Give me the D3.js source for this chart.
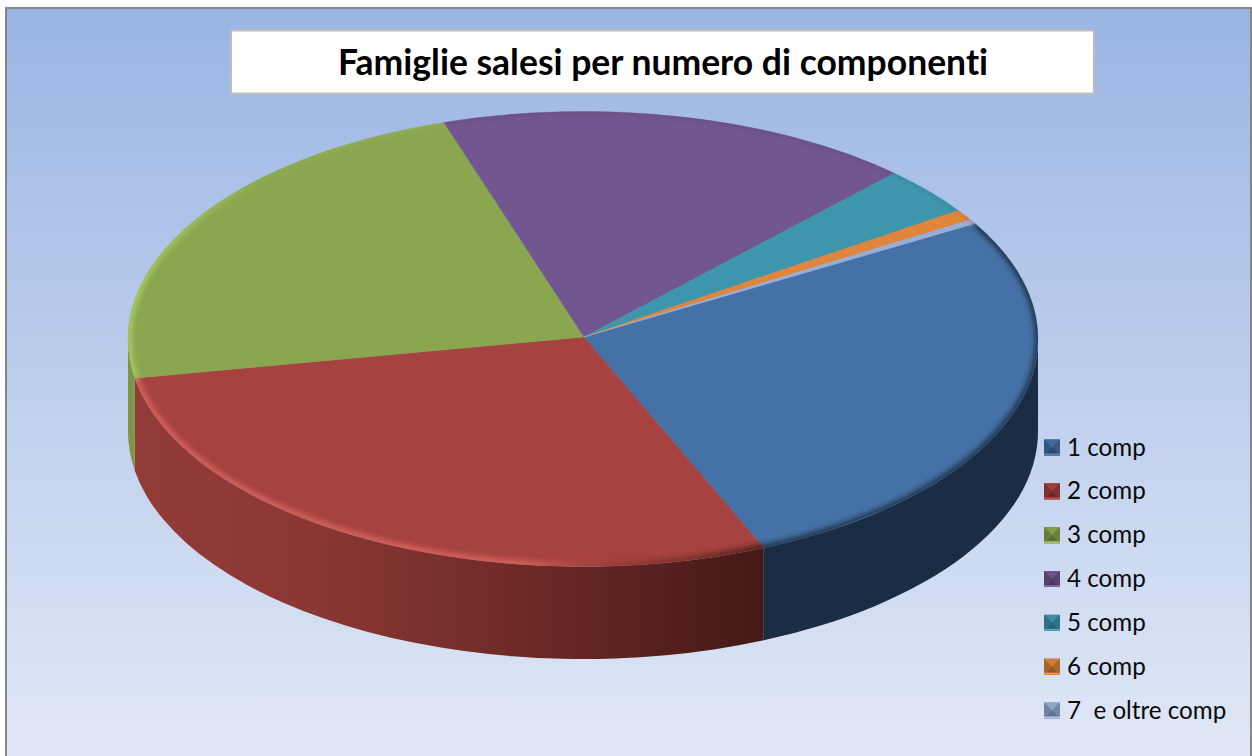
<!DOCTYPE html>
<html><head><meta charset="utf-8">
<script src="https://cdn.jsdelivr.net/npm/d3@7/dist/d3.min.js"></script>
<style>html,body{margin:0;padding:0;background:#fff;overflow:hidden}svg{display:block}text{font-variant-ligatures:none}</style>
</head><body><svg id="c" width="1252" height="756"></svg>
<script>
const titleText = "Famiglie salesi per numero di componenti";
const categories = ["1 comp","2 comp","3 comp","4 comp","5 comp","6 comp","7  e oltre comp"];
const values = [26.97,28.75,22.81,16.94,3.44,0.78,0.31];
const colors = ["#4571a6","#a6423f","#8aa64e","#71568f","#3e96ad","#e0853a","#98aed6"];
const rimColors = ["#22384f","url(#redRim)","url(#greenRim)","#5f4879","#34808f","#c8732f","#7e93b8"];
const rimWidths = [7,9,8,2.5,2.5,2.5,2.5];
const sideColors = ["#1a2d45","url(#redSide)","#7b9647","#5b4573","#2f7486","#b86c2e","#7b8eae"];
const startDeg = 59.5;

const W=1252,H=756, cx=583, cy=339, rx=455, ry=227.5, depth=92.5, apexX=584, apexY=337;
const svg=d3.select("#c");
const defs=svg.append("defs");
const bg=defs.append("linearGradient").attr("id","bg").attr("x1",0).attr("x2",0).attr("y1",0).attr("y2",1);
bg.append("stop").attr("offset","0").attr("stop-color","#9ab5e3");
bg.append("stop").attr("offset","1").attr("stop-color","#e1e8f6");
const grad=(id,x1,x2,stops)=>{const g=defs.append("linearGradient").attr("id",id).attr("gradientUnits","userSpaceOnUse")
  .attr("x1",x1).attr("x2",x2).attr("y1",0).attr("y2",0);
  stops.forEach(s=>g.append("stop").attr("offset",s[0]).attr("stop-color",s[1]).attr("stop-opacity",s[2]));};
grad("redSide",cx-rx,763,[[0,"#923c38",1],[0.3,"#8a3733",1],[0.6,"#702b28",1],[1,"#441917",1]]);
grad("redRim",cx-rx,763,[[0,"#cf5f5a",1],[0.62,"#d0605b",1],[0.82,"#7a2f2b",0.6],[1,"#4a1c1a",0.9]]);
grad("greenRim",cx-rx,260,[[0,"#a6c866",1],[0.25,"#a6c866",0.8],[1,"#a6c866",0.15]]);
defs.append("filter").attr("id","blur").attr("filterUnits","userSpaceOnUse")
  .attr("x",0).attr("y",0).attr("width",W).attr("height",H)
  .append("feGaussianBlur").attr("stdDeviation",2.6);
defs.append("clipPath").attr("id","topClip").append("ellipse")
  .attr("cx",cx).attr("cy",cy).attr("rx",rx).attr("ry",ry);

// background and frame
svg.append("rect").attr("x",6).attr("y",8).attr("width",W-6-1).attr("height",H).attr("fill","url(#bg)")
  .attr("stroke","#868686").attr("stroke-width",2);

// pie geometry
const rad=d=>d*Math.PI/180;
const px=d3.scaleLinear().domain([-1,1]).range([cx-rx,cx+rx]);
const py=d3.scaleLinear().domain([-1,1]).range([cy-ry,cy+ry]);
const pie=d3.pie().sort(null).startAngle(rad(startDeg)).endAngle(rad(startDeg+360));
const arcs=pie(values);
const pt=a=>[px(Math.sin(a)),py(-Math.cos(a))];
const rimPath=(a0,a1)=>{const [x0,y0]=pt(a0),[x1,y1]=pt(a1);
  return `M${x0},${y0}A${rx},${ry} 0 ${a1-a0>Math.PI?1:0} 1 ${x1},${y1}`;};

// side walls
arcs.forEach((d,i)=>{
  const a0=Math.max(d.startAngle,Math.PI/2), a1=Math.min(d.endAngle,Math.PI*1.5);
  if(a1<=a0) return;
  const [x0,y0]=pt(a0),[x1,y1]=pt(a1);
  svg.append("path").attr("d",
    `M${x0},${y0}A${rx},${ry} 0 0 1 ${x1},${y1}L${x1},${y1+depth}A${rx},${ry} 0 0 0 ${x0},${y0+depth}Z`)
    .attr("fill",sideColors[i]);
});

// top faces
svg.append("g").selectAll("path").data(arcs).join("path")
  .attr("d",d=>`M${apexX},${apexY}L${rimPath(d.startAngle,d.endAngle).slice(1)}Z`)
  .attr("fill",(d,i)=>colors[i]).attr("stroke",(d,i)=>colors[i]).attr("stroke-width",0.4);

// bevel along the rim
const bevel=svg.append("g").attr("clip-path","url(#topClip)").append("g").attr("filter","url(#blur)");
arcs.forEach((d,i)=>{
  bevel.append("path").attr("d",rimPath(d.startAngle,d.endAngle)).attr("fill","none")
    .attr("stroke",rimColors[i]).attr("stroke-width",rimWidths[i]);
});

// title
svg.append("rect").attr("x",231).attr("y",30.5).attr("width",863).attr("height",63)
  .attr("fill","#fff").attr("stroke","#bdbdbd").attr("stroke-width",2);
svg.append("text").attr("x",663).attr("y",75).attr("text-anchor","middle")
  .attr("font-family","Lato").attr("font-weight",700).attr("font-size",35.5).attr("fill","#000").text(titleText);

// legend
const ly=d3.scalePoint().domain(categories).range([447.5,710.5]);
const s=16;
const lg=svg.append("g").selectAll("g").data(categories).join("g")
  .attr("transform",d=>`translate(1044,${ly(d)-s/2})`);
lg.each(function(d,i){
  const g=d3.select(this), c=d3.color(colors[i]);
  const m=s/2;
  g.append("rect").attr("width",s).attr("height",s).attr("fill",c.darker(0.8));
  const tri=(p,f)=>g.append("path").attr("d",d3.line()(p)+"Z").attr("fill",f);
  tri([[0,0],[s,0],[m,m]],c.darker(0.15));
  tri([[0,0],[0,s],[m,m]],c.darker(0.8));
  tri([[s,0],[s,s],[m,m]],c.darker(0.7));
  tri([[0,s],[s,s],[m,m]],c.darker(1.2));
  g.append("rect").attr("x",0).attr("y",s-2).attr("width",s).attr("height",2).attr("fill",c.brighter(0.4));
});
lg.append("text").attr("x",23).attr("y",s/2+8).attr("font-family","Lato").attr("font-size",24.2)
  .attr("fill","#0a0a0a").style("white-space","pre").text(d=>d);
</script></body></html>
